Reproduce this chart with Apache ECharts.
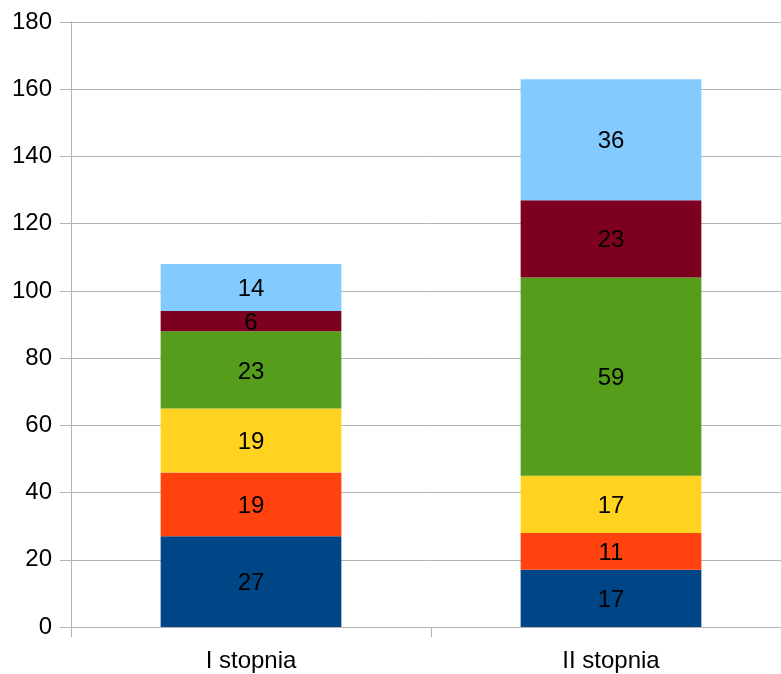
<!DOCTYPE html>
<html>
<head>
<meta charset="utf-8">
<script src="https://cdn.jsdelivr.net/npm/echarts@6/dist/echarts.min.js"></script>
<style>
html,body{margin:0;padding:0;background:#fff;}
#chart{width:781px;height:674px;}
</style>
</head>
<body>
<div id="chart"></div>
<script>
const categories = ["I stopnia", "II stopnia"];
const seriesNames = ["Seria 1", "Seria 2", "Seria 3", "Seria 4", "Seria 5", "Seria 6"];
const s1 = [27, 17];
const s2 = [19, 11];
const s3 = [19, 17];
const s4 = [23, 59];
const s5 = [6, 23];
const s6 = [14, 36];
const colors = ["#004586", "#ff420e", "#ffd320", "#579d1c", "#7e0021", "#83caff"];
const yTicks = { min: 0, max: 180, interval: 20 };

const seriesData = [s1, s2, s3, s4, s5, s6];
const chart = echarts.init(document.getElementById('chart'), null, {renderer: 'canvas'});
chart.setOption({
  animation: false,
  backgroundColor: '#ffffff',
  grid: { left: 71, right: -10, top: 22, bottom: 47, containLabel: false, outerBoundsMode: 'none' },
  xAxis: {
    type: 'category',
    data: categories,
    axisLine: { show: true, lineStyle: { color: '#b3b3b3', width: 1 } },
    axisTick: { show: true, alignWithLabel: false, length: 10, lineStyle: { color: '#b3b3b3' } },
    axisLabel: { color: '#000', fontSize: 24, fontFamily: 'Liberation Sans', margin: 22 },
    splitLine: { show: false }
  },
  yAxis: {
    type: 'value',
    min: yTicks.min, max: yTicks.max, interval: yTicks.interval,
    axisLine: { show: true, lineStyle: { color: '#b3b3b3', width: 1 } },
    axisTick: { show: true, length: 11, lineStyle: { color: '#b3b3b3' } },
    axisLabel: { color: '#000', fontSize: 24, fontFamily: 'Liberation Sans', margin: 19 },
    splitLine: { show: true, lineStyle: { color: '#b3b3b3', width: 1 } }
  },
  series: seriesData.map((d, i) => ({
    name: seriesNames[i],
    type: 'bar',
    stack: 'total',
    data: d,
    barWidth: '50.2%',
    itemStyle: { color: colors[i] },
    label: { show: true, position: 'inside', color: '#000', fontSize: 24, fontFamily: 'Liberation Sans', offset: [0, 2] }
  }))
});
</script>
</body>
</html>
